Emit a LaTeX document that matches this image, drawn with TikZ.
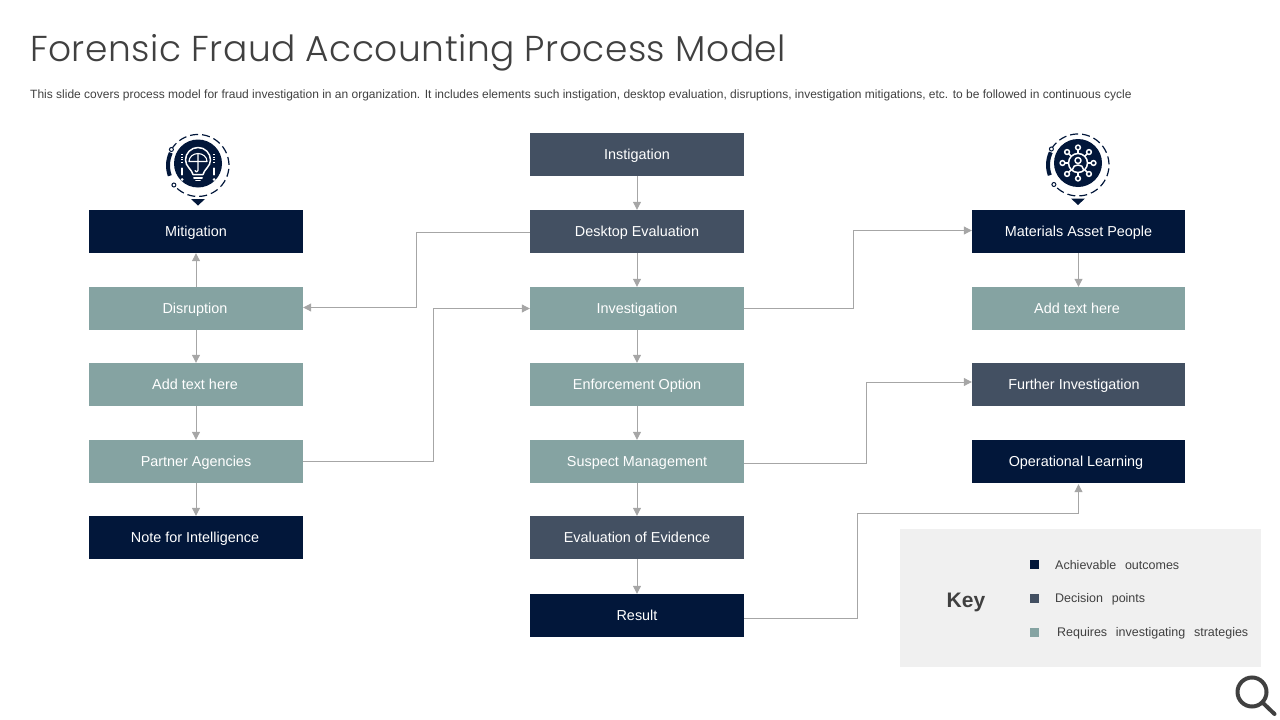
\documentclass[tikz,border=0pt]{standalone}
\usepackage{fontspec}
\setmainfont{Liberation Sans}
\newfontfamily\titlefont[LetterSpace=1.3]{Poppins Light}
\newfontfamily\keyfont[WordSpace=2.5]{Liberation Sans}
\usetikzlibrary{arrows.meta,positioning,calc}
\definecolor{navy}{HTML}{02173A}
\definecolor{slate}{HTML}{435062}
\definecolor{teal}{HTML}{85A3A2}
\definecolor{linegray}{HTML}{A6A6A6}
\definecolor{keygray}{HTML}{F0F0F0}
\definecolor{textgray}{HTML}{404040}
\newcommand{\px}[1]{\fontsize{#1}{#1}\selectfont}
\tikzset{
  box/.style={minimum width=214pt, minimum height=43pt, inner sep=0pt, text=white, text height=12.4pt, text depth=2pt, font=\px{14.4}},
  outcome/.style={box, fill=navy},
  decision/.style={box, fill=slate},
  strategy/.style={box, fill=teal},
  link/.style={draw=linegray, line width=1pt, -{Triangle[length=8pt,width=8pt]}},
  swatch/.style={minimum size=9pt, inner sep=0pt},
  keytext/.style={anchor=west, inner sep=0pt, text=textgray, font=\keyfont\px{12.5}},
  ico/.style={draw=white, line width=1.5pt, line cap=round, line join=round},
  pin/.pic={
    \fill[navy] (0,0) circle (24);
    \draw[navy, line width=1.2pt, dash pattern=on 8pt off 4pt] (-26.6,-14) arc (-149:141:31);
    \draw[navy, line width=4pt] ([shift={(160:30)}]0,2) arc (160:205:30);
    \draw[navy, line width=1pt, fill=white] (-26.6,-14) circle (2) (-24.1,21.5) circle (2);
    \fill[navy] (-7,35.5) -- (7,35.5) -- (0,42) -- cycle;
  }
}
\begin{document}
\begin{tikzpicture}[x=1pt, y=-1pt]
\useasboundingbox (0,0) rectangle (1280,720);

\node[anchor=west, inner sep=0pt, text=textgray, font=\titlefont\px{36}] (title) at (30,53) {Forensic Fraud Accounting Process Model};
\node[anchor=west, inner sep=0pt, text=textgray, font=\px{12}] (sub) at (30,95) {This slide covers process model for fraud investigation in an organization. It includes elements such instigation, desktop evaluation, disruptions, investigation mitigations, etc. to be followed in continuous cycle};

% left column
\node[outcome] (mitig) at (196,231.5) {Mitigation};
\node[strategy] (disr) at (196,308.5) {\hspace*{-2pt}Disruption};
\node[strategy] (addl) at (196,384.5) {\hspace*{-2pt}Add text here};
\node[strategy] (partner) at (196,461.5) {Partner Agencies};
\node[outcome] (note) at (196,537.5) {\hspace*{-2pt}Note for Intelligence};

% middle column
\node[decision] (inst) at (637,154.5) {Instigation};
\node[decision] (desk) at (637,231.5) {Desktop Evaluation};
\node[strategy] (inv) at (637,308.5) {Investigation};
\node[strategy] (enf) at (637,384.5) {Enforcement Option};
\node[strategy] (susp) at (637,461.5) {Suspect Management};
\node[decision] (eval) at (637,537.5) {Evaluation of Evidence};
\node[outcome] (res) at (637,615.5) {Result};

% right column
\tikzset{box/.append style={minimum width=213pt}}
\node[outcome] (mat) at (1078.5,231.5) {Materials Asset People};
\node[strategy] (addr) at (1078.5,308.5) {\hspace*{-3pt}Add text here};
\node[decision] (further) at (1078.5,384.5) {\hspace*{-9pt}Further Investigation};
\node[outcome] (oper) at (1078.5,461.5) {\hspace*{-5pt}Operational Learning};

% straight links
\draw[link] (disr) -- (mitig);
\draw[link] (disr) -- (addl);
\draw[link] (addl) -- (partner);
\draw[link] (partner) -- (note);
\draw[link] (inst) -- (desk);
\draw[link] (desk) -- (inv);
\draw[link] (inv) -- (enf);
\draw[link] (enf) -- (susp);
\draw[link] (susp) -- (eval);
\draw[link] (eval) -- (res);
\draw[link] (mat) -- (addr);

% elbow links
\draw[link] ([yshift=-1pt]desk.west) -- ++(-113,0) |- ([yshift=1pt]disr.east);
\draw[link] (partner.east) -- ++(130,0) |- (inv.west);
\draw[link] (inv.east) -- ++(109,0) |- ([yshift=1pt]mat.west);
\draw[link] ([yshift=-2pt]susp.east) -- ++(122,0) |- ([yshift=2.5pt]further.west);
\draw[link] ([yshift=-3pt]res.east) -- ++(113,0) -- ++(0,-105.5) -| ([yshift=-1pt]oper.south);

% key
\node[fill=keygray, minimum width=361pt, minimum height=138pt, inner sep=0pt] (keybox) at (1080.5,598) {};
\node[text=textgray, inner sep=0pt, font=\bfseries\px{21}] (keylabel) at (966,602) {Key};
\node[swatch, fill=navy] (sw1) at (1034.5,564.5) {};
\node[swatch, fill=slate] (sw2) at (1034.5,598.5) {};
\node[swatch, fill=teal] (sw3) at (1034.5,632.5) {};
\node[keytext] (k1) at (1055,565.5) {Achievable outcomes};
\node[keytext] (k2) at (1055,599.5) {Decision points};
\node[keytext] (k3) at (1057,633.5) {Requires investigating strategies};

% left icon
\pic at (198,163.5) {pin};
\begin{scope}[shift={(198,163.5)}]
  \draw[ico] (-5,11) .. controls (-6,6) and (-12.5,3) .. (-12.5,-3.5) arc (180:360:12.5) .. controls (12.5,3) and (6,6) .. (5,11) -- cycle;
  \draw[ico, line width=2pt] (-4,14) -- (4,14);
  \draw[ico, line width=1.8pt] (-2,17) -- (2,17);
  \draw[ico, line width=1.1pt] (-9,-2) arc (180:360:9 and 8) -- cycle;
  \draw[ico, line width=1.1pt] (0,-10) -- (0,7) arc (0:180:1.5);
  \foreach \s in {-1,1} {
    \draw[ico, dash pattern=on 1pt off 1.5pt, line cap=butt, line width=1.2pt] (\s*16,-9.5) -- (\s*16,-0.5);
    \draw[ico, line width=2.2pt] (\s*16,5) -- (\s*16,11);
    \fill[white] (\s*16,16) circle (1.5);
  }
\end{scope}

% right icon
\pic at (1078,163) {pin};
\begin{scope}[shift={(1078,163)}]
  \foreach \a in {0,45,...,315} {
    \draw[ico] (\a:10) -- (\a:13);
    \draw[ico, fill=navy] (\a:15.5) circle (2.4);
  }
  \draw[ico] (0,0) circle (9.5);
  \draw[ico] (0,-2.5) circle (3);
  \draw[ico] (-5.5,6.5) .. controls (-5.5,0.5) and (5.5,0.5) .. (5.5,6.5);
\end{scope}

% magnifier
\draw[textgray, line width=4pt] (1252,692) circle (14.5);
\draw[textgray, line width=4pt, line cap=round] (1262.5,702.5) -- (1274.5,714);

\end{tikzpicture}
\end{document}
